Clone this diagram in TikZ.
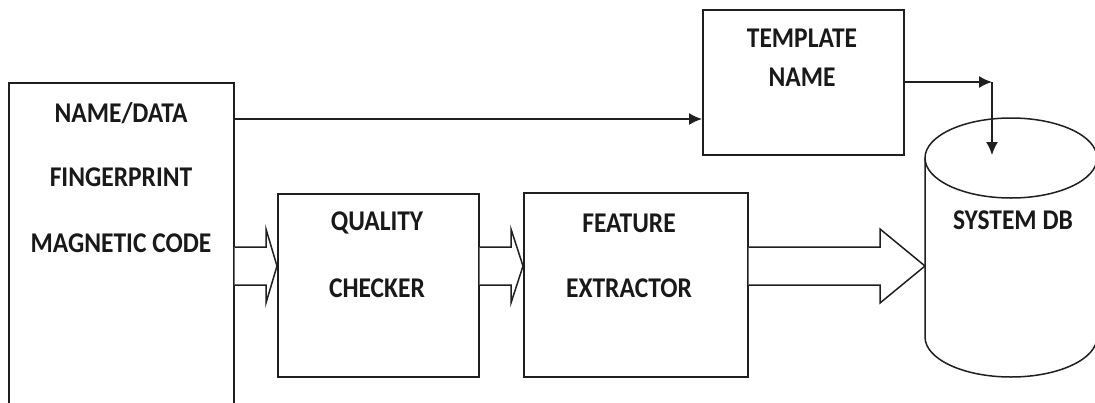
\documentclass[tikz,border=0pt]{standalone}
\usepackage{fontspec}
\setmainfont{Carlito}
\usetikzlibrary{arrows.meta,calc}

\tikzset{
  ln/.style={line width=1.5pt, draw=black!88},
  box/.style={ln, rectangle, inner sep=0pt},
  lbl/.style={font=\bfseries\fontsize{25.5}{30}\selectfont, text=black!90, inner sep=0pt},
  arr/.style={ln, -{Latex[length=13pt,width=12pt]}},
  blk/.style={ln, fill=white, line join=miter},
}
% label text, set a little taller than wide
\newcommand\tall[1]{\scalebox{1}[1.12]{#1}}
% open block arrow from the east side of #1 to the point #2, head length #3
\newcommand\blockarrow[3]{%
  \draw[blk] let \p1=(#1.east), \p2=(#2) in
    (\x1,-247pt) -- (\x2-#3,-247pt) -- (\x2-#3,-229pt) -- (\x2,-266pt)
    -- (\x2-#3,-303pt) -- (\x2-#3,-285pt) -- (\x1,-285pt);}

\begin{document}
\begin{tikzpicture}[x=1pt,y=-1pt]
\clip (0,0) rectangle (1095,402);
\fill[white] (0,0) rectangle (1095,402);

% input block (runs past the lower edge)
\node[box, draw, anchor=north west, minimum width=225pt, minimum height=340pt] (src) at (8,82) {};
\node[lbl] (t1) at (121,113) {\tall{NAME/DATA}};
\node[lbl] (t2) at (121,177) {\tall{FINGERPRINT}};
\node[lbl] (t3) at (121,243) {\tall{MAGNETIC CODE}};

% template block
\node[box, draw, anchor=north west, minimum width=201pt, minimum height=145pt] (tmpl) at (702,9) {};
\node[lbl] (t4) at (802,38) {\tall{TEMPLATE}};
\node[lbl] (t5) at (802,77) {\tall{NAME}};

% quality checker
\node[box, draw, anchor=north west, minimum width=201pt, minimum height=183pt] (qc) at (277,193) {};
\node[lbl] (t6) at (377,223) {\tall{QUALITY}};
\node[lbl] (t7) at (377,288) {\tall{CHECKER}};

% feature extractor
\node[box, draw, anchor=north west, minimum width=224pt, minimum height=184pt] (fe) at (523,192) {};
\node[lbl] (t8) at (629,223) {\tall{FEATURE}};
\node[lbl] (t9) at (629,288) {\tall{EXTRACTOR}};

% database cylinder
\draw[ln] (925,158) -- (925,337) arc[start angle=180, end angle=360, x radius=86, y radius=-40] -- (1097,158);
\draw[ln] (1011,158) ellipse[x radius=86, y radius=40];
\node[lbl] (db) at (1013,220) {\tall{SYSTEM DB}};
\coordinate (dbw) at (925,266);
\coordinate (dbtop) at (992,155);
\coordinate (corner) at (992,82);

% thin connectors
\draw[arr] (src.east |- 0,119) -- (tmpl.west |- 0,119);
\draw[arr] (tmpl.east |- 0,82) -- (corner);
\draw[arr] (corner) -- (dbtop);

% block arrows
\blockarrow{src}{qc.west}{11pt}
\blockarrow{qc}{fe.west}{12pt}
\blockarrow{fe}{dbw}{45pt}
\end{tikzpicture}
\end{document}
